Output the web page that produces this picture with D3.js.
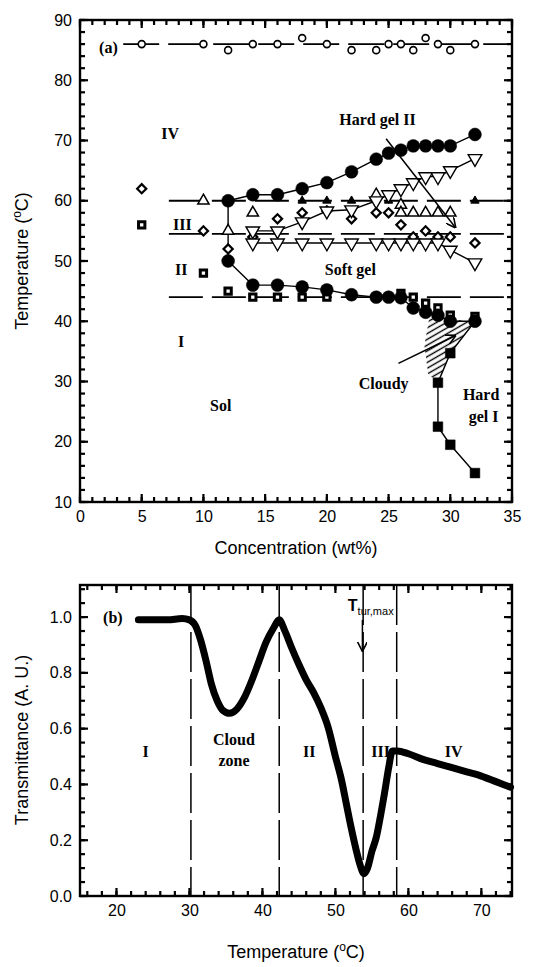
<!DOCTYPE html>
<html>
<head>
<meta charset="utf-8">
<script src="https://cdn.jsdelivr.net/npm/d3@7"></script>
<style>
  body { margin: 0; background: #fff; }
  .ticklab text { font-family: "Liberation Sans", Arial, sans-serif; font-size: 16px; fill: #000; }
  .axis-title { font-family: "Liberation Sans", Arial, sans-serif; font-size: 18px; fill: #000; }
  .ann { font-family: "Liberation Serif", "Times New Roman", serif; font-weight: bold; font-size: 16px; fill: #000; }
  .tk line { stroke: #000; stroke-width: 2.2px; }
</style>
</head>
<body>
<svg width="537" height="967"></svg>
<script>
// ---------- panel (a) data: phase diagram ----------
const topCircX = [5, 10, 12, 14, 16, 18, 20, 22, 24, 25, 26, 27, 28, 29, 30, 32];
const topCircY = [86, 86, 85, 86, 86, 87, 86, 85, 85, 86, 86, 85, 87, 86, 85, 86];

const hardGel2X = [12, 14, 16, 18, 20, 22, 24, 25, 26, 27, 28, 29, 30, 32];
const hardGel2Y = [60, 61, 61, 62, 63, 64.8, 66.9, 67.9, 68.4, 69.1, 69.1, 69.1, 69.1, 71];

const softGelLowX = [12, 12, 14, 16, 18, 20, 22, 24, 25, 26, 27, 28, 29, 30, 32];
const softGelLowY = [60, 50, 46, 46, 45.7, 45.2, 44.4, 44, 44, 43.9, 42.2, 41.5, 41, 40, 40];

const hardGel1X = [32, 30, 29, 29, 30, 32];
const hardGel1Y = [40, 34.7, 29.8, 22.5, 19.5, 14.8];

const triDownUpX = [14, 16, 18, 20, 22, 24, 25, 26, 27, 28, 29, 30, 32];
const triDownUpY = [55, 55, 56.5, 58.3, 58.5, 60, 61, 62, 63, 64, 64, 65, 67];

const triDownLowX = [14, 16, 18, 20, 22, 24, 25, 26, 27, 28, 29, 30, 32];
const triDownLowY = [53, 53, 53, 53, 53, 53, 53, 53, 53, 53, 53, 51.8, 49.7];

const diamondX = [5, 10, 12, 14, 16, 18, 20, 22, 24, 25, 26, 27, 28, 29, 30, 32];
const diamondY = [62, 55, 52, 54, 57, 58, 58.3, 57, 58, 58, 56, 54, 55, 54, 54, 53];

const triUpX = [10, 12, 14, 24, 26, 26, 27, 28, 29, 30];
const triUpY = [60, 55, 58, 61, 59.3, 58, 58, 58, 58, 58];

const triSmallX = [18, 20, 22, 25, 32];
const triSmallY = [60, 60, 60, 60, 60];

const squareOpenX = [5, 10, 12, 14, 16, 18, 20, 26, 27, 28, 29, 30, 32];
const squareOpenY = [56, 48, 45, 44, 44, 44, 44, 44.6, 44, 43, 42.2, 41, 40.8];

const phaseLinesY = [60, 54.5, 44];
const cloudyX = [28.3, 32, 30, 29, 28.2, 27.9];
const cloudyY = [40.6, 40, 34.7, 29.8, 31.3, 36];

const aXTicks = [0, 5, 10, 15, 20, 25, 30, 35];
const aYTicks = [10, 20, 30, 40, 50, 60, 70, 80, 90];

// ---------- panel (b) data: transmittance ----------
const tempB = [23, 25, 27, 29, 30, 30.8, 31.5, 32.3, 33, 33.8, 34.6, 35.5, 36.5, 37.5, 38.5, 39.5,
  40.5, 41.5, 42.3, 43, 44, 45, 46, 47, 48, 49, 50, 50.8, 51.5, 52.2, 52.8, 53.4, 53.9, 54.4, 55,
  55.6, 56.2, 56.8, 57.3, 57.8, 58.5, 60, 62, 64, 66, 68, 70, 72, 74];
const transB = [0.99, 0.99, 0.99, 0.995, 0.99, 0.97, 0.92, 0.84, 0.76, 0.70, 0.665, 0.655, 0.67, 0.71,
  0.77, 0.84, 0.91, 0.96, 0.99, 0.955, 0.89, 0.83, 0.775, 0.73, 0.675, 0.605, 0.50, 0.42, 0.33, 0.24,
  0.17, 0.11, 0.08, 0.10, 0.16, 0.21, 0.29, 0.38, 0.46, 0.52, 0.52, 0.51, 0.49, 0.475, 0.46, 0.445,
  0.43, 0.41, 0.39];
const zoneBounds = [30.2, 42.3, 53.8, 58.4];
const bXTicks = [20, 30, 40, 50, 60, 70];
const bYTicks = [0, 0.2, 0.4, 0.6, 0.8, 1.0];

const svg = d3.select("svg");

const defs = svg.append("defs");
defs.append("marker").attr("id", "arr")
  .attr("viewBox", "0 0 10 10").attr("refX", 9).attr("refY", 5)
  .attr("markerWidth", 10).attr("markerHeight", 10).attr("markerUnits", "userSpaceOnUse")
  .attr("orient", "auto")
  .append("path").attr("d", "M0,0 L10,5 L0,10").attr("fill", "none").attr("stroke", "#000").attr("stroke-width", 1.6);
defs.append("pattern").attr("id", "hatch")
  .attr("patternUnits", "userSpaceOnUse").attr("width", 5).attr("height", 5)
  .attr("patternTransform", "rotate(-30)")
  .append("line").attr("x1", 0).attr("y1", 2.5).attr("x2", 5).attr("y2", 2.5)
  .attr("stroke", "#000").attr("stroke-width", 1.4);

// inward ticks on all four sides, labels on left/bottom
function frame(g, x, y, xMaj, xMin, yMaj, yMin, yFmt) {
  const [l, r] = x.range();
  const [b, t] = y.range();
  const tk = g.append("g").attr("class", "tk");
  const xt = xMaj.map(v => [v, 8]).concat(xMin.map(v => [v, 5]));
  const yt = yMaj.map(v => [v, 8]).concat(yMin.map(v => [v, 5]));
  for (const edge of [b, t]) {
    for (const d of xt) {
      tk.append("line")
        .attr("x1", x(d[0])).attr("x2", x(d[0]))
        .attr("y1", edge).attr("y2", edge === b ? edge - d[1] : edge + d[1]);
    }
  }
  for (const edge of [l, r]) {
    for (const d of yt) {
      tk.append("line")
        .attr("y1", y(d[0])).attr("y2", y(d[0]))
        .attr("x1", edge).attr("x2", edge === l ? edge + d[1] : edge - d[1]);
    }
  }
  const bx = g.append("g").attr("class", "ticklab").attr("transform", `translate(0,${b})`)
    .call(d3.axisBottom(x).tickValues(xMaj).tickSize(0).tickPadding(9));
  bx.select(".domain").remove();
  const ly = g.append("g").attr("class", "ticklab").attr("transform", `translate(${l},0)`)
    .call(d3.axisLeft(y).tickValues(yMaj).tickSize(0).tickPadding(8).tickFormat(yFmt));
  ly.select(".domain").remove();
  g.append("rect").attr("x", l).attr("y", t).attr("width", r - l).attr("height", b - t)
    .attr("fill", "none").attr("stroke", "#000").attr("stroke-width", 2.4);
}

function degLabel(g, x, y, rot, pre) {
  const t = g.append("text").attr("class", "axis-title").attr("text-anchor", "middle")
    .attr("transform", `translate(${x},${y}) rotate(${rot})`);
  t.append("tspan").text(pre + " (");
  t.append("tspan").attr("dy", -7).attr("font-size", 12).text("o");
  t.append("tspan").attr("dy", 7).text("C)");
}

// ================= panel (a) =================
const xa = d3.scaleLinear().domain([0, 35]).range([80, 512]);
const ya = d3.scaleLinear().domain([10, 90]).range([502, 20]);
const ga = svg.append("g");
const pts = (xs, ys) => xs.map((v, i) => [xa(v), ya(ys[i])]);

// cloudy hatched zone
ga.append("path").attr("d", d3.line()(pts(cloudyX, cloudyY)) + "Z")
  .attr("fill", "url(#hatch)").attr("stroke", "none");

// dashed phase lines
ga.append("line").attr("x1", xa(3.5)).attr("x2", xa(35)).attr("y1", ya(86)).attr("y2", ya(86))
  .attr("stroke", "#000").attr("stroke-width", 1.8).attr("stroke-dasharray", "36,9");
ga.selectAll(".phase").data(phaseLinesY).join("line")
  .attr("x1", xa(7.2)).attr("x2", xa(35)).attr("y1", d => ya(d)).attr("y2", d => ya(d))
  .attr("stroke", "#000").attr("stroke-width", 1.8).attr("stroke-dasharray", "34,9");

const line = d3.line();
const conn = (xs, ys) => ga.append("path").attr("d", line(pts(xs, ys)))
  .attr("fill", "none").attr("stroke", "#000").attr("stroke-width", 1.4);
conn(hardGel2X, hardGel2Y);
conn(softGelLowX, softGelLowY);
conn(hardGel1X, hardGel1Y);
conn(triDownUpX, triDownUpY);
conn(triDownLowX, triDownLowY);

function markers(xs, ys, type, size, filled, rot, sw) {
  const sym = d3.symbol().type(type).size(size);
  ga.append("g").selectAll("path").data(pts(xs, ys)).join("path")
    .attr("d", sym)
    .attr("transform", d => `translate(${d[0]},${d[1]}) rotate(${rot})`)
    .attr("fill", filled ? "#000" : "#fff")
    .attr("stroke", "#000").attr("stroke-width", sw);
}
markers(topCircX, topCircY, d3.symbolCircle, 38, false, 0, 1.6);
markers(squareOpenX, squareOpenY, d3.symbolSquare, 40, false, 0, 3);
markers(diamondX, diamondY, d3.symbolSquare, 42, false, 45, 2.2);
markers(triUpX, triUpY, d3.symbolTriangle, 55, false, 0, 1.5);
markers(triSmallX, triSmallY, d3.symbolTriangle, 30, true, 0, 1);
markers(triDownUpX, triDownUpY, d3.symbolTriangle, 80, false, 180, 1.4);
markers(triDownLowX, triDownLowY, d3.symbolTriangle, 80, false, 180, 1.4);
markers(hardGel1X.slice(1), hardGel1Y.slice(1), d3.symbolSquare, 95, true, 0, 0.5);
markers(hardGel2X, hardGel2Y, d3.symbolCircle, 130, true, 0, 0.5);
markers(softGelLowX.slice(1), softGelLowY.slice(1), d3.symbolCircle, 130, true, 0, 0.5);

// arrows
ga.append("line").attr("x1", xa(24.8)).attr("y1", ya(70.3)).attr("x2", xa(30.4)).attr("y2", ya(55.6))
  .attr("stroke", "#000").attr("stroke-width", 1.5).attr("marker-end", "url(#arr)");
ga.append("line").attr("x1", xa(25.8)).attr("y1", ya(33)).attr("x2", xa(30.4)).attr("y2", ya(37.6))
  .attr("stroke", "#000").attr("stroke-width", 1.5).attr("marker-end", "url(#arr)");

const annA = [
  ["(a)", 2.3, 85.5, "middle"], ["IV", 7.3, 71.2, "middle"], ["III", 8.3, 56, "middle"],
  ["II", 8.2, 48.6, "middle"], ["I", 8.2, 36.6, "middle"], ["Sol", 11.4, 26, "middle"],
  ["Soft gel", 21.9, 48.6, "middle"], ["Cloudy", 24.6, 29.7, "middle"],
  ["Hard", 32.5, 27.8, "middle"], ["gel I", 32.7, 24.2, "middle"], ["Hard gel II", 24.1, 73.5, "middle"]
];
ga.selectAll(".ann").data(annA).join("text").attr("class", "ann")
  .attr("x", d => xa(d[1])).attr("y", d => ya(d[2])).attr("dy", "0.35em")
  .attr("text-anchor", d => d[3]).text(d => d[0]);

const minor = (a, b, s) => d3.range(a, b + s / 2, s);
frame(ga, xa, ya, aXTicks, minor(0, 35, 1), aYTicks, minor(10, 90, 2), d => d);
ga.append("text").attr("class", "axis-title").attr("x", 296).attr("y", 554)
  .attr("text-anchor", "middle").text("Concentration (wt%)");
degLabel(ga, 28, 261, -90, "Temperature");

// ================= panel (b) =================
const xb = d3.scaleLinear().domain([15, 74.2]).range([80, 512]);
const yb = d3.scaleLinear().domain([0, 1.115]).range([896, 585]);
const gb = svg.append("g");

gb.selectAll(".zone").data(zoneBounds).join("line")
  .attr("x1", d => xb(d)).attr("x2", d => xb(d)).attr("y1", yb(1.115)).attr("y2", yb(0))
  .attr("stroke", "#000").attr("stroke-width", 1.5).attr("stroke-dasharray", "40,7");

gb.append("path")
  .attr("d", d3.line().x(d => xb(d[0])).y(d => yb(d[1])).curve(d3.curveMonotoneX)(tempB.map((t, i) => [t, transB[i]])))
  .attr("fill", "none").attr("stroke", "#000").attr("stroke-width", 7)
  .attr("stroke-linecap", "round").attr("stroke-linejoin", "round");

gb.append("line").attr("x1", xb(53.7)).attr("x2", xb(53.7)).attr("y1", yb(0.99)).attr("y2", yb(0.88))
  .attr("stroke", "#000").attr("stroke-width", 1.5).attr("marker-end", "url(#arr)");
const tt = gb.append("text").attr("class", "axis-title").attr("x", xb(51.7)).attr("y", yb(1.02))
  .attr("font-size", 16);
tt.append("tspan").attr("font-size", 16).attr("font-weight", "bold").text("T");
tt.append("tspan").attr("dy", 4).attr("font-size", 11).text("tur,max");

const annB = [
  ["(b)", 19.5, 1.0], ["I", 24, 0.52], ["Cloud", 36.1, 0.56], ["zone", 36.1, 0.485],
  ["II", 46.4, 0.52], ["III", 56.2, 0.52], ["IV", 66.2, 0.52]
];
gb.selectAll(".ann").data(annB).join("text").attr("class", "ann")
  .attr("x", d => xb(d[1])).attr("y", d => yb(d[2])).attr("dy", "0.35em")
  .attr("text-anchor", "middle").text(d => d[0]);

frame(gb, xb, yb, bXTicks, minor(16, 74, 2), bYTicks, minor(0, 1.1, 0.05), d3.format(".1f"));
gb.append("text").attr("class", "axis-title").attr("x", 22).attr("y", 740)
  .attr("transform", "rotate(-90,22,740)").attr("text-anchor", "middle").attr("dy", "0.35em")
  .text("Transmittance (A. U.)");
degLabel(gb, 296, 958, 0, "Temperature");
</script>
</body>
</html>
